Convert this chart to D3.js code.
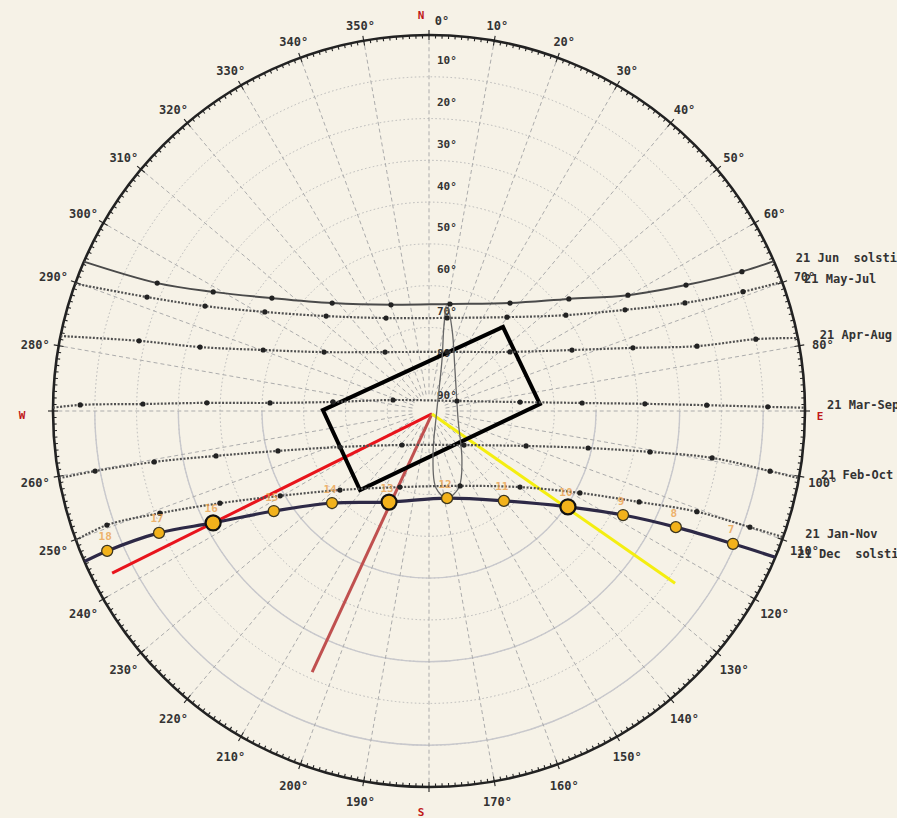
<!DOCTYPE html>
<html>
<head>
<meta charset="utf-8">
<script src="https://cdn.jsdelivr.net/npm/d3@7"></script>
<style>
  body { margin: 0; background: #f6f2e7; }
  text { font-family: "DejaVu Sans Mono", monospace; }
</style>
</head>
<body>
<svg id="chart" width="897" height="818"></svg>
<script>
// rim labels (azimuth, 0 = north, clockwise)
const azLabels = [0,10,20,30,40,50,60,70,80,90,100,110,120,130,140,150,160,170,180,190,200,210,220,230,240,250,260,270,280,290,300,310,320,330,340,350];
const cardinals = [{ name: "N", az: 0 }, { name: "E", az: 90 }, { name: "S", az: 180 }, { name: "W", az: 270 }];
// altitude labels on the north axis
const altLabels = [10,20,30,40,50,60,70,80,90];
const ringAlts = [10,20,30,40,50,60,70,80];
const solidArcAlts = [50,30,10];

// sun paths, [azimuth, altitude] (first/last = horizon)
const junSolstice = [[293.4,0],[295.2,18.1],[298.9,31.0],[305.7,43.7],[318.1,55.3],[340.3,63.0],[11.1,63.9],[36.9,57.7],[51.3,47.1],[59.8,34.9],[63.9,21.5],[66.0,8.0],[66.5,0]];
const mayJul = [[289.8,0],[292.0,17.2],[295.1,30.8],[301.1,44.1],[312.7,56.5],[335.2,65.5],[11.0,67.3],[39.7,60.8],[55.0,50.0],[62.7,37.2],[67.1,23.5],[69.2,9.6],[69.9,0]];
const aprAug = [[281.5,0],[283.6,18.6],[285.6,33.1],[290.2,47.7],[299.3,61.2],[323.3,72.4],[17.0,75.2],[53.9,66.0],[66.9,52.8],[72.8,38.9],[76.4,24.0],[77.6,9.9],[78.8,0]];
const marSep = [[270.5,0],[271.0,6.5],[271.4,21.5],[272.1,36.8],[272.9,51.9],[275.4,66.9],[287.0,81.0],[70.3,82.9],[84.4,68.1],[87.0,53.3],[88.1,38.3],[88.8,23.5],[89.3,8.9],[89.5,0]];
const febOct = [[259.7,0],[259.8,8.8],[259.5,23.1],[258.1,37.9],[255.2,52.6],[248.0,67.0],[218.5,79.6],[134.2,78.3],[109.8,65.3],[103.1,50.9],[100.5,36.2],[99.4,21.3],[100.0,7.1],[100.3,0]];
const janNov = [[249.9,0],[250.5,8.2],[249.2,21.1],[246.2,35.3],[240.3,49.0],[228.4,61.5],[200.9,70.5],[157.5,70.6],[129.9,61.6],[118.5,48.9],[113.4,35.2],[110.6,21.5],[109.9,8.3],[109.6,0]];
const decSolstice = [[246.4,0],[246.5,6.0],[245.7,19.1],[242.6,31.8],[237.2,45.8],[226.5,58.0],[203.7,66.2],[168.3,68.7],[140.2,62.0],[124.6,49.6],[118.2,37.3],[115.2,24.7],[113.6,10.6],[112.9,0]];
const decHours = [18,17,16,15,14,13,12,11,10,9,8,7];
const decBigHours = [16,13,10];

// noon analemma loop
const analemma = [[9.5,64.0],[15.9,69.8],[32.4,78.4],[107.2,82.7],[146.0,75.9],[158.5,70.4],[168.3,68.7],[174.8,71.5],[174.8,79.4],[82.9,88.1],[14.3,77.4],[9.9,69.1]];

// overlay drawn on top of the diagram
const overlayOrigin = [135, 89.0];
const redEnd = [242.9, 4.8];
const brownEnd = [204.1, 21.5];
const yellowEnd = [125.0, 18.1];
const boxCorners = [[270.5,64.6],[41.4,63.2],[86.4,63.4],[221.1,64.9]];

const paths = [
  { label: "21 Jun  solstice", pts: junSolstice, kind: "solid" },
  { label: "21 May-Jul", pts: mayJul, kind: "dotted" },
  { label: "21 Apr-Aug", pts: aprAug, kind: "dotted" },
  { label: "21 Mar-Sep", pts: marSep, kind: "dotted" },
  { label: "21 Feb-Oct", pts: febOct, kind: "dotted" },
  { label: "21 Jan-Nov", pts: janNov, kind: "dotted" },
  { label: "21 Dec  solstice", pts: decSolstice, kind: "dec" }
];

const cx = 429, cy = 411, R = 376;
const svg = d3.select("#chart");
svg.append("rect").attr("width", 897).attr("height", 818).attr("fill", "#f6f2e7");

const rScale = d3.scaleLinear().domain([90, 0]).range([0, R]);
const aScale = d3.scaleLinear().domain([0, 360]).range([0, 2 * Math.PI]);
const proj = d => d3.pointRadial(aScale(d[0]), rScale(d[1]));
const curve = d3.lineRadial()
  .angle(d => aScale(d[0]))
  .radius(d => rScale(d[1]));

svg.append("clipPath").attr("id", "dome")
  .append("circle").attr("cx", cx).attr("cy", cy).attr("r", R);

const g = svg.append("g").attr("transform", `translate(${cx},${cy})`);
const grid = g.append("g");

// altitude rings
grid.selectAll("circle.ring").data(ringAlts).enter().append("circle")
  .attr("r", d => rScale(d))
  .attr("fill", "none").attr("stroke", "#b8b8b8")
  .attr("stroke-width", 1).attr("stroke-dasharray", "1.5,2.5");

// solid arcs in the southern half
grid.selectAll("path.sarc").data(solidArcAlts).enter().append("path")
  .attr("d", d => d3.arc().innerRadius(rScale(d)).outerRadius(rScale(d))
    .startAngle(Math.PI / 2).endAngle(3 * Math.PI / 2)())
  .attr("fill", "none").attr("stroke", "#c8c8cc").attr("stroke-width", 1.4);

// azimuth spokes
grid.selectAll("line.spoke").data(azLabels).enter().append("line")
  .each(function (d) {
    const a = d3.pointRadial(aScale(d), rScale(86));
    const b = d3.pointRadial(aScale(d), R);
    d3.select(this).attr("x1", a[0]).attr("y1", a[1]).attr("x2", b[0]).attr("y2", b[1]);
  })
  .attr("stroke", "#acacac").attr("stroke-width", 1).attr("stroke-dasharray", "4,3");

// rim with ticks
g.append("circle").attr("r", R).attr("fill", "none").attr("stroke", "#222").attr("stroke-width", 2.6);
g.selectAll("line.tick").data(d3.range(0, 360, 1)).enter().append("line")
  .each(function (d) {
    const major = d % 10 === 0;
    const a = d3.pointRadial(aScale(d), major ? R - 5 : R - 3.5);
    const b = d3.pointRadial(aScale(d), major ? R + 5 : R);
    d3.select(this).attr("x1", a[0]).attr("y1", a[1]).attr("x2", b[0]).attr("y2", b[1]);
  })
  .attr("stroke", "#222").attr("stroke-width", 1.1);

// rim labels
const labelPos = d => {
  const a = aScale(d);
  const p = d3.pointRadial(a, R + 17 + 7 * Math.abs(Math.sin(a)));
  return [p[0], p[1] + 3];
};
g.selectAll("text.az").data(azLabels.filter(d => d % 90 !== 0 || d === 0)).enter().append("text")
  .attr("x", d => labelPos(d)[0] + (d === 0 ? 13 : 0))
  .attr("y", d => labelPos(d)[1])
  .attr("text-anchor", "middle").attr("dominant-baseline", "central")
  .attr("font-size", 12).attr("font-weight", "bold").attr("fill", "#333")
  .text(d => d + "°");

const cardOff = { N: [-8, -20], E: [15, 5], S: [-8, 25], W: [-31, 4] };
g.selectAll("text.card").data(cardinals).enter().append("text")
  .attr("x", d => d3.pointRadial(aScale(d.az), R)[0] + cardOff[d.name][0])
  .attr("y", d => d3.pointRadial(aScale(d.az), R)[1] + cardOff[d.name][1])
  .attr("text-anchor", "middle").attr("dominant-baseline", "central")
  .attr("font-size", 11).attr("font-weight", "bold").attr("fill", "#c01818")
  .text(d => d.name);

// altitude labels
g.selectAll("text.alt").data(altLabels).enter().append("text")
  .attr("x", 8).attr("y", d => -rScale(d) - 16)
  .attr("dominant-baseline", "central")
  .attr("font-size", 11).attr("font-weight", "bold").attr("fill", "#333")
  .text(d => d + "°");

// sun paths
const curves = svg.append("g").attr("clip-path", "url(#dome)")
  .append("g").attr("transform", `translate(${cx},${cy})`);

curves.append("path").attr("d", curve.curve(d3.curveCatmullRomClosed.alpha(0.5))(analemma))
  .attr("fill", "none").attr("stroke", "#666").attr("stroke-width", 1.3);
curve.curve(d3.curveCatmullRom.alpha(0.5));

paths.forEach(p => {
  const path = curves.append("path").attr("d", curve(p.pts)).attr("fill", "none");
  if (p.kind === "solid") path.attr("stroke", "#4a4a4a").attr("stroke-width", 2);
  else if (p.kind === "dotted") path.attr("stroke", "#505050").attr("stroke-width", 2.2).attr("stroke-dasharray", "2,1.6");
  else path.attr("stroke", "#2d2946").attr("stroke-width", 3.2);

  if (p.kind !== "dec") {
    curves.selectAll(null).data(p.pts.slice(1, -1)).enter().append("circle")
      .attr("cx", d => proj(d)[0]).attr("cy", d => proj(d)[1])
      .attr("r", 2.6).attr("fill", "#222");
  }
  const end = proj(p.pts[p.pts.length - 1]);
  g.append("text")
    .attr("x", end[0] + 22).attr("y", end[1] - 3)
    .attr("dominant-baseline", "central")
    .attr("font-size", 12).attr("font-weight", "bold").attr("fill", "#333")
    .style("white-space", "pre")
    .text(p.label);
});

// hour markers on the December solstice path
const decPts = decSolstice.slice(1, -1).map((d, i) => ({ pt: d, hour: decHours[i] }));
curves.selectAll("text.hour").data(decPts).enter().append("text")
  .attr("x", d => proj(d.pt)[0] - 2).attr("y", d => proj(d.pt)[1] - 14)
  .attr("text-anchor", "middle").attr("dominant-baseline", "central")
  .attr("font-size", 11).attr("font-weight", "bold").attr("fill", "#eba24e").attr("opacity", 0.8)
  .text(d => d.hour);
curves.selectAll("circle.hour").data(decPts).enter().append("circle")
  .attr("cx", d => proj(d.pt)[0]).attr("cy", d => proj(d.pt)[1])
  .attr("r", d => decBigHours.includes(d.hour) ? 7.5 : 5.5)
  .attr("fill", "#f2b21b")
  .attr("stroke", d => decBigHours.includes(d.hour) ? "#111" : "#3a3520")
  .attr("stroke-width", d => decBigHours.includes(d.hour) ? 2.2 : 1.3);

// overlay lines and box
const straight = d3.line().x(d => proj(d)[0]).y(d => proj(d)[1]);
g.append("path").attr("d", straight([overlayOrigin, redEnd]))
  .attr("stroke", "#e8141c").attr("stroke-width", 3).attr("fill", "none");
g.append("path").attr("d", straight([overlayOrigin, brownEnd]))
  .attr("stroke", "#c0504f").attr("stroke-width", 3).attr("fill", "none");
g.append("path").attr("d", straight([overlayOrigin, yellowEnd]))
  .attr("stroke", "#f4ee10").attr("stroke-width", 3).attr("fill", "none");
g.append("path").attr("d", straight.curve(d3.curveLinearClosed)(boxCorners))
  .attr("stroke", "#000").attr("stroke-width", 4).attr("fill", "none");
</script>
</body>
</html>
